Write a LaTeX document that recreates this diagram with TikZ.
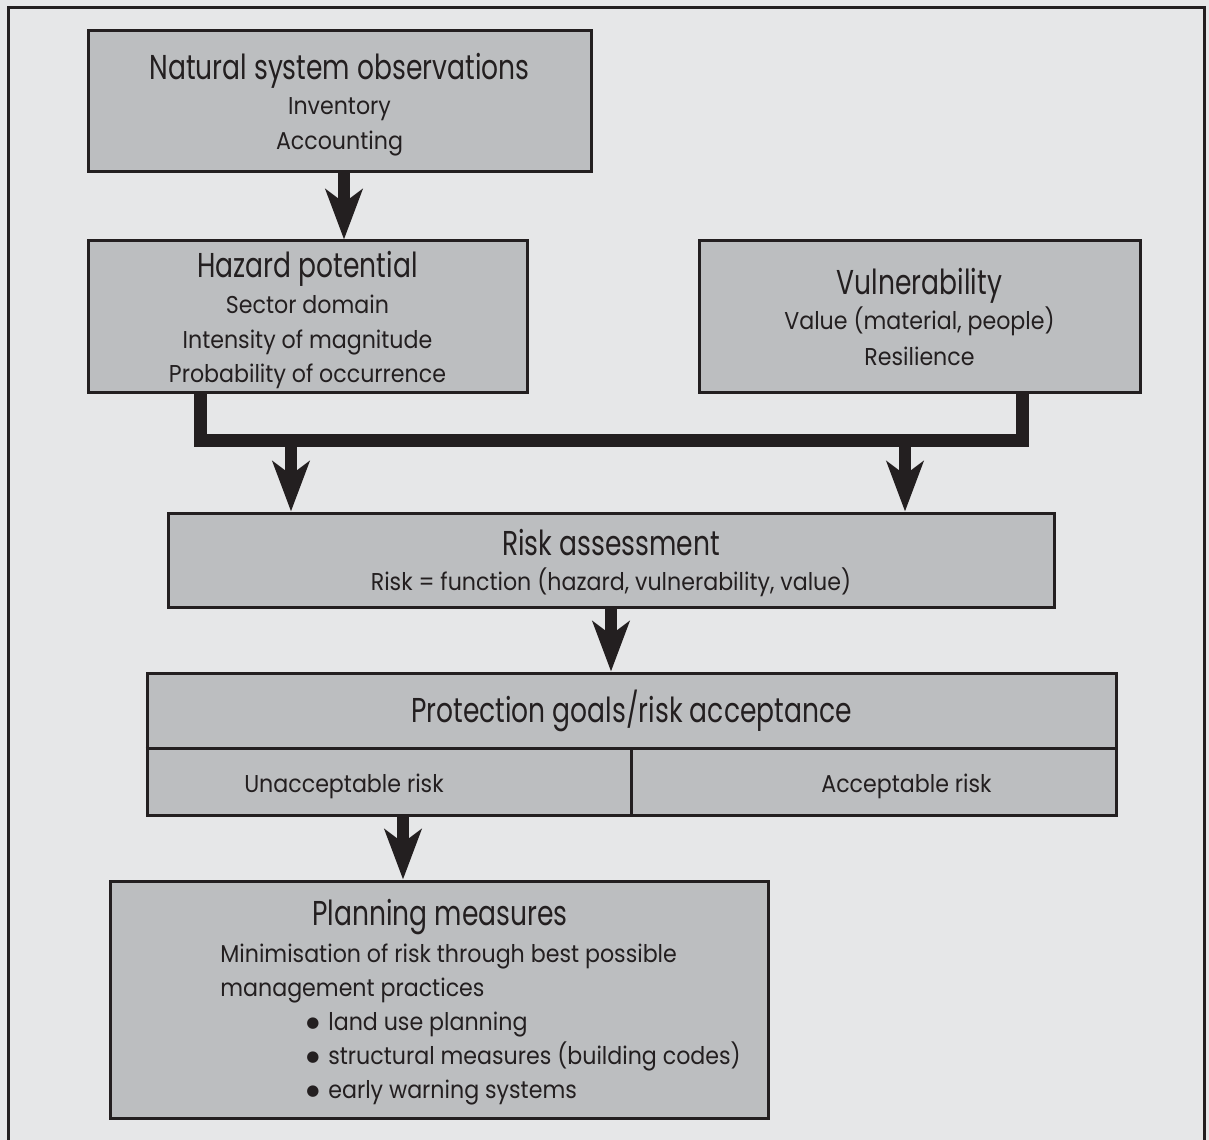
\documentclass[tikz,border=0pt]{standalone}
\usepackage{fontspec}
\setmainfont[FakeStretch=0.91]{Poppins}
\newfontfamily\headfont[FakeStretch=0.77]{Poppins}
\newfontfamily\dotfont{DejaVu Sans}
\usetikzlibrary{arrows.meta}
\definecolor{pagebg}{HTML}{E6E7E8}
\definecolor{boxfill}{HTML}{BCBEC0}
\definecolor{ink}{HTML}{231F20}
\newcommand{\itemdot}{\makebox[13.2pt][l]{\raisebox{1.8pt}{\dotfont\fontsize{9}{9}\selectfont ●}}}

\begin{document}
\begin{tikzpicture}[x=0.6pt, y=-0.6pt,
    box/.style={draw=ink, fill=boxfill, line width=1.8pt, inner sep=0pt},
    headtxt/.style={anchor=base, text=ink, inner sep=0pt, font=\headfont\fontsize{20.7}{24}\selectfont},
    subtxt/.style={anchor=base, text=ink, inner sep=0pt, font=\fontsize{14.6}{18}\selectfont},
    flow/.style={draw=ink, line width=7.2pt, -{Stealth[length=30pt, width=22pt, inset=8pt]}},
    bar/.style={draw=ink, line width=7.8pt, line join=miter},
  ]
  % Page and frame
  \fill[pagebg] (0,0) rectangle (1209,1140);
  \useasboundingbox (0,0) rectangle (1209,1140);
  \draw[ink, line width=1.8pt] (8,1140) -- (8,8) -- (1204,8) -- (1204,1140);

  % Boxes
  \node[box, minimum width=301.8pt, minimum height=84.6pt] (obs) at (339.5,101.5) {};
  \node[box, minimum width=263.4pt, minimum height=91.2pt] (haz) at (307.5,317) {};
  \node[box, minimum width=264.6pt, minimum height=91.2pt] (vul) at (919.5,317) {};
  \node[box, minimum width=531.6pt, minimum height=56.4pt] (risk) at (611,560) {};
  \node[box, minimum width=581.4pt, minimum height=85.2pt] (prot) at (631.5,744) {};
  \node[box, minimum width=394.8pt, minimum height=142.2pt] (plan) at (439,999.5) {};

  % Protection box cells
  \coordinate (split) at (631,748);
  \draw[ink, line width=1.8pt] (prot.west |- split) -- (prot.east |- split);
  \draw[ink, line width=1.8pt] (split) -- (prot.south -| split);

  % Texts
  \node[headtxt] (obs-t) at (339.5,80) {Natural system observations};
  \node[subtxt] (obs-a) at (339.5,115) {Inventory};
  \node[subtxt] (obs-b) at (339.5,150) {Accounting};

  \node[headtxt] (haz-t) at (307.5,278) {Hazard potential};
  \node[subtxt] (haz-a) at (307.5,313) {Sector domain};
  \node[subtxt] (haz-b) at (307.5,348) {Intensity of magnitude};
  \node[subtxt] (haz-c) at (307.5,382) {Probability of occurrence};

  \node[headtxt] (vul-t) at (919.5,295) {Vulnerability};
  \node[subtxt] (vul-a) at (919.5,330) {Value (material, people)};
  \node[subtxt] (vul-b) at (919.5,365) {Resilience};

  \node[headtxt] (risk-t) at (611,555) {Risk assessment};
  \node[subtxt] (risk-a) at (611,590) {Risk = function (hazard, vulnerability, value)};

  \node[headtxt] (prot-t) at (631.5,722) {Protection goals/risk acceptance};
  \node[subtxt] (unacc) at (344,792) {Unacceptable risk};
  \node[subtxt] (acc) at (906.5,792) {Acceptable risk};

  \node[headtxt] (plan-t) at (440,925) {Planning measures};
  \node[subtxt, anchor=base west] (plan-a) at (220,962) {Minimisation of risk through best possible};
  \node[subtxt, anchor=base west] (plan-b) at (220,996) {management practices};
  \node[subtxt, anchor=base west] (plan-c) at (306,1030) {\itemdot land use planning};
  \node[subtxt, anchor=base west] (plan-d) at (306,1064) {\itemdot structural measures (building codes)};
  \node[subtxt, anchor=base west] (plan-e) at (306,1098) {\itemdot early warning systems};

  % Arrows
  \coordinate (x-obs) at (344,0);
  \coordinate (x-plan) at (403,0);
  \coordinate (j-haz) at (200,440);
  \coordinate (j-vul) at (1022,440);
  \coordinate (d-haz) at (291,440);
  \coordinate (d-vul) at (905,440);

  \draw[flow] (obs.south -| x-obs) -- (haz.north -| x-obs);
  \draw[bar] (haz.south -| j-haz) -- (j-haz) -- (j-vul) -- (vul.south -| j-vul);
  \draw[flow] (d-haz) -- (risk.north -| d-haz);
  \draw[flow] (d-vul) -- (risk.north -| d-vul);
  \draw[flow] (risk.south) -- (prot.north -| risk.south);
  \draw[flow] (prot.south -| x-plan) -- (plan.north -| x-plan);
\end{tikzpicture}
\end{document}
